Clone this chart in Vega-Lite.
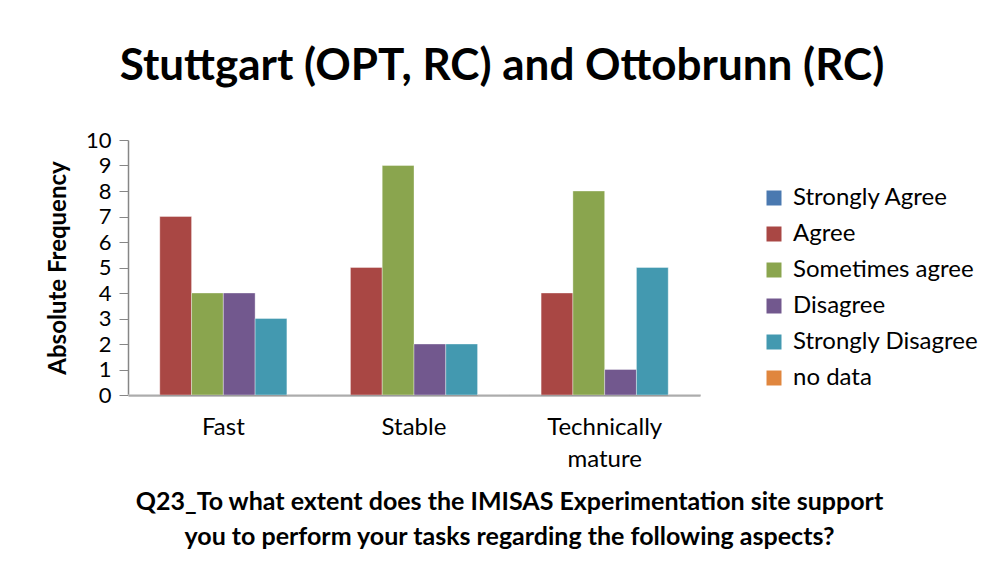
{
  "$schema": "https://vega.github.io/schema/vega-lite/v6.json",
  "autosize": "none",
  "width": 572,
  "height": 255,
  "padding": {"left": 128, "top": 140, "right": 284, "bottom": 185},
  "background": "white",
  "title": {
    "text": "Stuttgart (OPT, RC) and Ottobrunn (RC)",
    "font": "Lato",
    "fontSize": 44,
    "fontWeight": "bold",
    "color": "#000000",
    "anchor": "middle",
    "frame": "group",
    "dx": 88,
    "offset": 40
  },
  "data": {
    "values": [
      {"aspect": "Fast", "answer": "Strongly Agree", "count": 0},
      {"aspect": "Fast", "answer": "Agree", "count": 7},
      {"aspect": "Fast", "answer": "Sometimes agree", "count": 4},
      {"aspect": "Fast", "answer": "Disagree", "count": 4},
      {"aspect": "Fast", "answer": "Strongly Disagree", "count": 3},
      {"aspect": "Fast", "answer": "no data", "count": 0},
      {"aspect": "Stable", "answer": "Strongly Agree", "count": 0},
      {"aspect": "Stable", "answer": "Agree", "count": 5},
      {"aspect": "Stable", "answer": "Sometimes agree", "count": 9},
      {"aspect": "Stable", "answer": "Disagree", "count": 2},
      {"aspect": "Stable", "answer": "Strongly Disagree", "count": 2},
      {"aspect": "Stable", "answer": "no data", "count": 0},
      {"aspect": "Technically mature", "answer": "Strongly Agree", "count": 0},
      {"aspect": "Technically mature", "answer": "Agree", "count": 4},
      {"aspect": "Technically mature", "answer": "Sometimes agree", "count": 8},
      {"aspect": "Technically mature", "answer": "Disagree", "count": 1},
      {"aspect": "Technically mature", "answer": "Strongly Disagree", "count": 5},
      {"aspect": "Technically mature", "answer": "no data", "count": 0}
    ]
  },
  "mark": {"type": "bar", "stroke": "#ffffff", "strokeWidth": 0.6, "strokeOpacity": 0.6},
  "encoding": {
    "x": {
      "field": "aspect",
      "type": "nominal",
      "sort": ["Fast", "Stable", "Technically mature"],
      "scale": {"paddingInner": 0, "paddingOuter": 0},
      "axis": {
        "title": ["Q23_To what extent does the IMISAS Experimentation site support", "you to perform your tasks regarding the following aspects?"],
        "titleFont": "Lato",
        "titleFontSize": 25,
        "titleFontWeight": "bold",
        "titleColor": "#000000",
        "titleLineHeight": 35,
        "titleX": 381,
        "titleY": 94,
        "titleAnchor": "middle",
        "titleAlign": "center",
        "titleBaseline": "top",
        "labelAngle": 0,
        "labelFont": "Lato",
        "labelFontSize": 24,
        "labelColor": "#000000",
        "labelLineHeight": 32,
        "labelPadding": 20,
        "labelExpr": "datum.value == 'Technically mature' ? ['Technically', 'mature'] : datum.value",
        "ticks": false,
        "domainColor": "#868686",
        "domainWidth": 2
      }
    },
    "xOffset": {
      "field": "answer",
      "type": "nominal",
      "sort": ["Strongly Agree", "Agree", "Sometimes agree", "Disagree", "Strongly Disagree", "no data"],
      "scale": {"paddingInner": 0, "paddingOuter": 0}
    },
    "y": {
      "field": "count",
      "type": "quantitative",
      "scale": {"domain": [0, 10], "nice": false},
      "axis": {
        "title": "Absolute Frequency",
        "titleFont": "Lato",
        "titleFontSize": 24,
        "titleFontWeight": "bold",
        "titleColor": "#000000",
        "titlePadding": 15,
        "values": [0, 1, 2, 3, 4, 5, 6, 7, 8, 9, 10],
        "grid": false,
        "labelFont": "Lato",
        "labelFontSize": 22,
        "labelColor": "#000000",
        "labelPadding": 8,
        "tickSize": 9,
        "tickColor": "#868686",
        "domainColor": "#868686",
        "domainWidth": 1.5
      }
    },
    "color": {
      "field": "answer",
      "type": "nominal",
      "sort": ["Strongly Agree", "Agree", "Sometimes agree", "Disagree", "Strongly Disagree", "no data"],
      "scale": {
        "domain": ["Strongly Agree", "Agree", "Sometimes agree", "Disagree", "Strongly Disagree", "no data"],
        "range": ["#4A79B0", "#A94744", "#8AA54E", "#72588E", "#4399B0", "#E0863E"]
      },
      "legend": {
        "title": null,
        "orient": "none",
        "legendX": 634,
        "legendY": 46,
        "symbolType": "square",
        "symbolSize": 225,
        "symbolStrokeWidth": 0,
        "labelFont": "Lato",
        "labelFontSize": 24,
        "labelColor": "#000000",
        "labelOffset": 7,
        "rowPadding": 12,
        "labelLimit": 300
      }
    }
  },
  "config": {"view": {"stroke": null}}
}
